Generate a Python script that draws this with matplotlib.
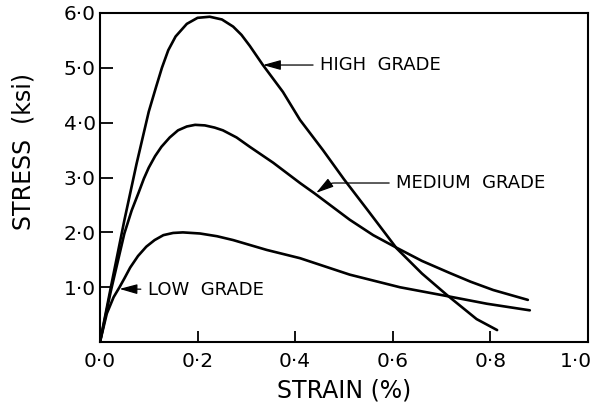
import matplotlib
matplotlib.use('Agg')
import matplotlib.pyplot as plt
import matplotlib.transforms as mtransforms

plt.rcParams['font.family'] = ['DejaVu Sans']

# data (strain %, stress ksi)
high_strain = [0, 0.025, 0.05, 0.075, 0.1, 0.115, 0.127, 0.14, 0.155, 0.178, 0.2,
               0.225, 0.25, 0.273, 0.29, 0.307, 0.334, 0.375, 0.41, 0.457, 0.5,
               0.55, 0.608, 0.66, 0.711, 0.772, 0.814]
high_stress = [0, 1.12, 2.22, 3.25, 4.2, 4.65, 5.0, 5.32, 5.57, 5.8, 5.91,
               5.93, 5.88, 5.75, 5.6, 5.4, 5.05, 4.56, 4.05, 3.5, 2.97,
               2.39, 1.71, 1.25, 0.86, 0.42, 0.22]

med_strain = [0, 0.022, 0.05, 0.065, 0.079, 0.09, 0.1, 0.113, 0.126, 0.143, 0.16,
              0.178, 0.195, 0.215, 0.235, 0.252, 0.28, 0.307, 0.355, 0.41, 0.44,
              0.512, 0.56, 0.608, 0.66, 0.717, 0.76, 0.806, 0.877]
med_stress = [0, 0.92, 1.98, 2.4, 2.72, 2.98, 3.18, 3.39, 3.56, 3.73, 3.86,
              3.93, 3.96, 3.95, 3.91, 3.86, 3.73, 3.56, 3.27, 2.9, 2.71,
              2.23, 1.95, 1.72, 1.48, 1.26, 1.1, 0.95, 0.77]

low_strain = [0, 0.014, 0.028, 0.04, 0.05, 0.062, 0.078, 0.095, 0.112, 0.13, 0.15,
              0.17, 0.205, 0.24, 0.273, 0.342, 0.41, 0.512, 0.615, 0.711, 0.793, 0.881]
low_stress = [0, 0.52, 0.82, 1.0, 1.16, 1.36, 1.57, 1.74, 1.86, 1.95, 1.99,
              2.0, 1.98, 1.93, 1.86, 1.68, 1.53, 1.23, 1.0, 0.84, 0.70, 0.58]

x_ticks = [0.0, 0.2, 0.4, 0.6, 0.8, 1.0]
x_labels = ['0·0', '0·2', '0·4', '0·6', '0·8', '1·0']
y_ticks = [1, 2, 3, 4, 5, 6]
y_labels = ['1·0', '2·0', '3·0', '4·0', '5·0', '6·0']

fig = plt.figure(figsize=(5.95, 4.03), dpi=100)
ax = fig.add_axes([0.168, 0.151, 0.82, 0.817])

lw = 1.9
for xs, ys in [(high_strain, high_stress), (med_strain, med_stress), (low_strain, low_stress)]:
    ax.plot(xs, ys, color='black', lw=lw, solid_joinstyle='round', solid_capstyle='round')

ax.set_xlim(0, 1.0)
ax.set_ylim(0, 6.0)
ax.set_xticks(x_ticks)
ax.set_xticklabels(x_labels)
ax.set_yticks(y_ticks)
ax.set_yticklabels(y_labels)
ax.tick_params(axis='x', direction='in', length=8, width=1.3, labelsize=14.5, pad=7)
ax.tick_params(axis='y', direction='in', length=9, width=1.3, labelsize=14.5, pad=3)
for s in ax.spines.values():
    s.set_linewidth(1.5)

# last x label sits left of the right spine in the reference
last = ax.get_xticklabels()[-1]
last.set_ha('right')
last.set_transform(last.get_transform() +
                   mtransforms.ScaledTranslation(4 / 100, 0, fig.dpi_scale_trans))

ax.set_xlabel('STRAIN (%)', fontsize=17, va='center')
ax.set_ylabel('STRESS  (ksi)', fontsize=17, va='center')
ax.xaxis.set_label_coords(0.50, -0.148)
ax.yaxis.set_label_coords(-0.156, 0.579)

arrow = dict(arrowstyle='-|>,head_length=0.9,head_width=0.25', color='black',
             lw=0.9, shrinkA=3, shrinkB=0, mutation_scale=12)

ax.annotate('HIGH  GRADE', xy=(0.334, 5.05), xytext=(0.451, 5.05),
            ha='left', va='center', fontsize=13, arrowprops=arrow)
ax.annotate('MEDIUM  GRADE', xy=(0.443, 2.72), xytext=(0.607, 2.90),
            ha='left', va='center', fontsize=13,
            arrowprops=dict(arrow, connectionstyle='angle,angleA=0,angleB=35,rad=4'))
ax.annotate('LOW  GRADE', xy=(0.04, 0.97), xytext=(0.098, 0.95),
            ha='left', va='center', fontsize=13, arrowprops=arrow)

plt.savefig('out.png', dpi=100, facecolor='white')
